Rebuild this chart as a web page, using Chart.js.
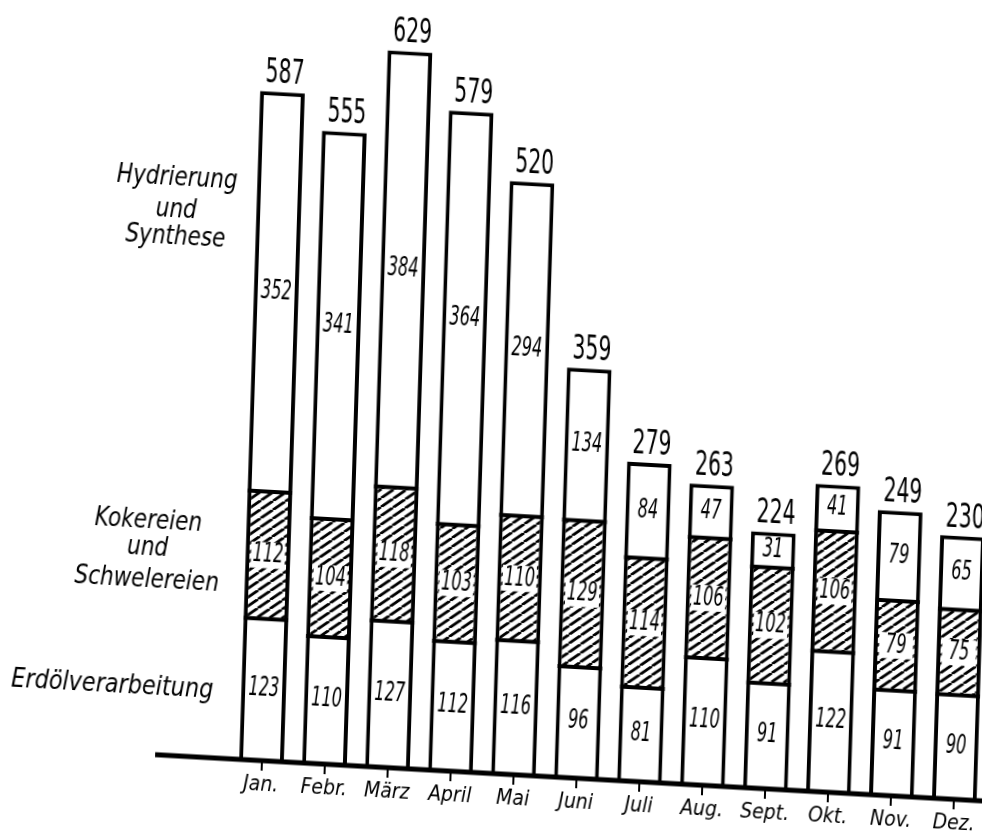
<!DOCTYPE html>
<html>
<head>
<meta charset="utf-8">
<script src="https://cdn.jsdelivr.net/npm/chart.js@4.4.1/dist/chart.umd.min.js"></script>
<style>
  html, body { margin: 0; padding: 0; background: #fff; overflow: hidden; }
  #wrap { position: relative; width: 982px; height: 831px; overflow: hidden; }
  /* the printed page is slightly skewed, so the whole canvas is too */
  #chart { position: absolute; left: 0; top: 0; transform-origin: 491px 415px; transform: rotate(1.8deg) skewY(1.4deg); }
</style>
</head>
<body>
<div id="wrap"><canvas id="chart" width="1000" height="831"></canvas></div>
<script>
const months = ['Jan.', 'Febr.', 'März', 'April', 'Mai', 'Juni', 'Juli', 'Aug.', 'Sept.', 'Okt.', 'Nov.', 'Dez.'];
const erdoel = [123, 110, 127, 112, 116, 96, 81, 110, 91, 122, 91, 90];
const kokereien = [112, 104, 118, 103, 110, 129, 114, 106, 102, 106, 79, 75];
const hydrierung = [352, 341, 384, 364, 294, 134, 84, 47, 31, 41, 79, 65];
const totals = [587, 555, 629, 579, 520, 359, 279, 263, 224, 269, 249, 230];
const nameErdoel = ['Erdölverarbeitung'];
const nameKokereien = ['Kokereien', 'und', 'Schwelereien'];
const nameHydrierung = ['Hydrierung', 'und', 'Synthese'];

const FONT = "'DejaVu Sans', sans-serif";
const TICK_FONT = "'DejaVu Sans Condensed', 'DejaVu Sans', sans-serif";

function squeezedText(ctx, text, x, y, size, sx, style) {
    ctx.save();
    ctx.translate(x, y);
    ctx.scale(sx, 1);
    ctx.font = (style ? style + ' ' : '') + size + 'px ' + FONT;
    ctx.textAlign = 'center';
    ctx.textBaseline = 'middle';
    ctx.fillStyle = '#000';
    ctx.fillText(text, 0, 0);
    ctx.restore();
}

const canvas = document.getElementById('chart');
const ctx = canvas.getContext('2d');

// diagonal hatching for the Kokereien segment
const hatch = (function () {
    const w = 12, h = 9;
    const c = document.createElement('canvas');
    c.width = w;
    c.height = h;
    const g = c.getContext('2d');
    g.fillStyle = '#fff';
    g.fillRect(0, 0, w, h);
    g.strokeStyle = '#000';
    g.lineWidth = 2.8;
    g.beginPath();
    [-w, 0, w].forEach(function (o) {
        g.moveTo(o, h);
        g.lineTo(o + w, 0);
    });
    g.stroke();
    return ctx.createPattern(c, 'repeat');
})();

const labelPlugin = {
    id: 'labels',
    afterDatasetsDraw(chart) {
        const c = chart.ctx;
        const area = chart.chartArea;

        // lines between the stacked segments
        c.save();
        c.strokeStyle = '#000';
        c.lineWidth = 4;
        [0, 1].forEach(function (i) {
            chart.getDatasetMeta(i).data.forEach(function (bar) {
                const half = bar.width / 2;
                c.beginPath();
                c.moveTo(bar.x - half, bar.y);
                c.lineTo(bar.x + half, bar.y);
                c.stroke();
            });
        });
        c.restore();

        // segment values
        chart.data.datasets.forEach(function (ds, i) {
            chart.getDatasetMeta(i).data.forEach(function (bar, j) {
                const y = (bar.y + bar.base) / 2;
                if (i === 1) {
                    c.save();
                    c.fillStyle = '#fff';
                    c.fillRect(bar.x - 17, y - 13, 34, 26);
                    c.restore();
                }
                squeezedText(c, String(ds.data[j]), bar.x, y, 26, 0.62, 'italic');
            });
        });

        // totals above the bars
        chart.getDatasetMeta(2).data.forEach(function (bar, j) {
            squeezedText(c, String(totals[j]), bar.x + 2, bar.y - 18, 34, 0.6, '500');
        });

        // thick base line
        c.save();
        c.strokeStyle = '#000';
        c.lineWidth = 5;
        c.beginPath();
        c.moveTo(area.left - 75, area.bottom + 2);
        c.lineTo(chart.width, area.bottom + 2);
        c.stroke();
        c.restore();

        // series names on the left
        const ys = [[196, 228, 255], [540, 567, 599], [706]];
        const xs = [170, 152, 121];
        const sxs = [0.8, 0.8, 0.83];
        [nameHydrierung, nameKokereien, nameErdoel].forEach(function (lines, k) {
            lines.forEach(function (t, n) {
                squeezedText(c, t, xs[k], ys[k][n], 27, sxs[k], 'italic');
            });
        });
    }
};

new Chart(ctx, {
    type: 'bar',
    data: {
        labels: months,
        datasets: [{
            label: 'Erdölverarbeitung',
            data: erdoel,
            backgroundColor: '#fff'
        }, {
            label: 'Kokereien und Schwelereien',
            data: kokereien,
            backgroundColor: hatch
        }, {
            label: 'Hydrierung und Synthese',
            data: hydrierung,
            backgroundColor: '#fff',
            borderWidth: { top: 4, bottom: 0, left: 4, right: 4 }
        }]
    },
    options: {
        responsive: false,
        animation: false,
        devicePixelRatio: 1,
        barPercentage: 0.71,
        categoryPercentage: 1,
        layout: {
            padding: { left: 241, right: 2, top: 10, bottom: 0 }
        },
        elements: {
            bar: {
                borderColor: '#000',
                borderWidth: { top: 0, bottom: 0, left: 4, right: 4 },
                borderSkipped: false,
                inflateAmount: 0
            }
        },
        plugins: {
            legend: { display: false },
            tooltip: { enabled: false }
        },
        scales: {
            x: {
                stacked: true,
                border: { display: false },
                grid: {
                    display: true,
                    drawOnChartArea: false,
                    offset: false,
                    tickLength: 12,
                    lineWidth: 2,
                    color: '#000'
                },
                ticks: {
                    color: '#000',
                    padding: 2,
                    maxRotation: 0,
                    autoSkip: false,
                    font: { family: TICK_FONT, size: 21, style: 'italic' }
                },
                afterFit: function (scale) {
                    scale.height = 60;
                }
            },
            y: {
                display: false,
                stacked: true,
                min: 0,
                max: 670
            }
        }
    },
    plugins: [labelPlugin]
});
</script>
</body>
</html>
